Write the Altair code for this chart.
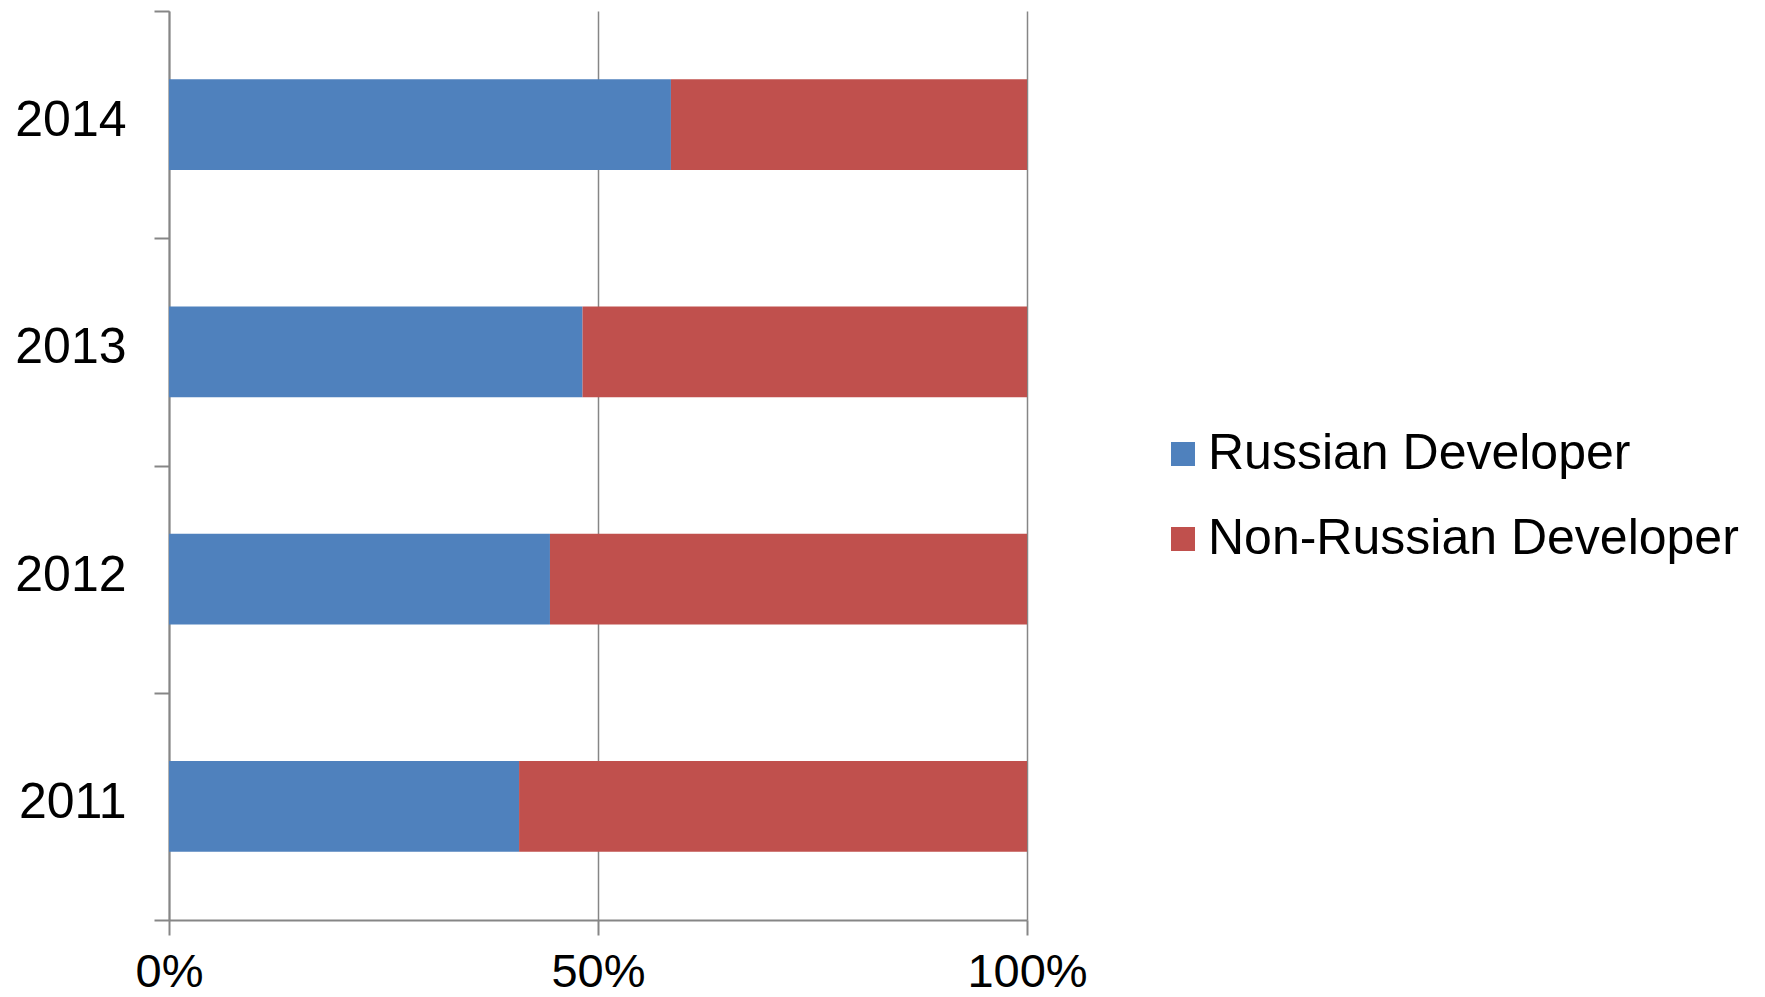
import altair as alt
import pandas as pd

years = ["2011", "2012", "2013", "2014"]
russian = [40.8, 44.4, 48.2, 58.5]
non_russian = [59.2, 55.6, 51.8, 41.5]
series = ["Russian Developer", "Non-Russian Developer"]
colors = ["#4F81BD", "#C0504D"]

rows = []
for y, r, n in zip(years, russian, non_russian):
    rows.append({"year": y, "dev": series[0], "share": r, "ord": 0})
    rows.append({"year": y, "dev": series[1], "share": n, "ord": 1})
df = pd.DataFrame(rows)

FONT = "Liberation Sans"
GREY = "#868686"

chart = alt.Chart(df).mark_bar(height=alt.RelativeBandSize(0.4)).encode(
    y=alt.Y(
        "year:N",
        sort=list(reversed(years)),
        scale=alt.Scale(paddingInner=0, paddingOuter=0),
        axis=alt.Axis(
            title=None,
            tickBand="extent",
            labelFontSize=50,
            labelFont=FONT,
            labelColor="black",
            labelPadding=28,
            labelOffset=-4,
            tickSize=15,
            tickColor=GREY,
            tickWidth=2,
            domainColor=GREY,
            domainWidth=2,
            grid=False,
        ),
    ),
    x=alt.X(
        "share:Q",
        stack="normalize",
        scale=alt.Scale(domain=[0, 1], nice=False),
        axis=alt.Axis(
            title=None,
            values=[0, 0.5, 1],
            format="%",
            labelFontSize=47,
            labelFont=FONT,
            labelColor="black",
            labelPadding=14,
            labelFlush=False,
            tickSize=15,
            tickColor=GREY,
            tickWidth=2,
            domainColor=GREY,
            domainWidth=2,
            grid=True,
            gridColor=GREY,
            gridWidth=1.5,
        ),
    ),
    color=alt.Color(
        "dev:N",
        scale=alt.Scale(domain=series, range=colors),
        legend=alt.Legend(
            title=None,
            orient="none",
            legendX=989,
            legendY=418,
            symbolType="square",
            symbolSize=576,
            symbolStrokeWidth=0,
            labelFontSize=50,
            labelFont=FONT,
            labelColor="black",
            labelOffset=0,
            rowPadding=35,
            labelLimit=1000,
        ),
    ),
    order=alt.Order("ord:Q"),
).properties(
    width=858,
    height=909,
    autosize=alt.AutoSizeParams(type="none"),
    padding={"left": 169, "top": 11, "right": 738, "bottom": 77},
    background="white",
).configure_view(stroke=None)

chart.save("out.html", embed_options={"renderer": "svg", "actions": False})
